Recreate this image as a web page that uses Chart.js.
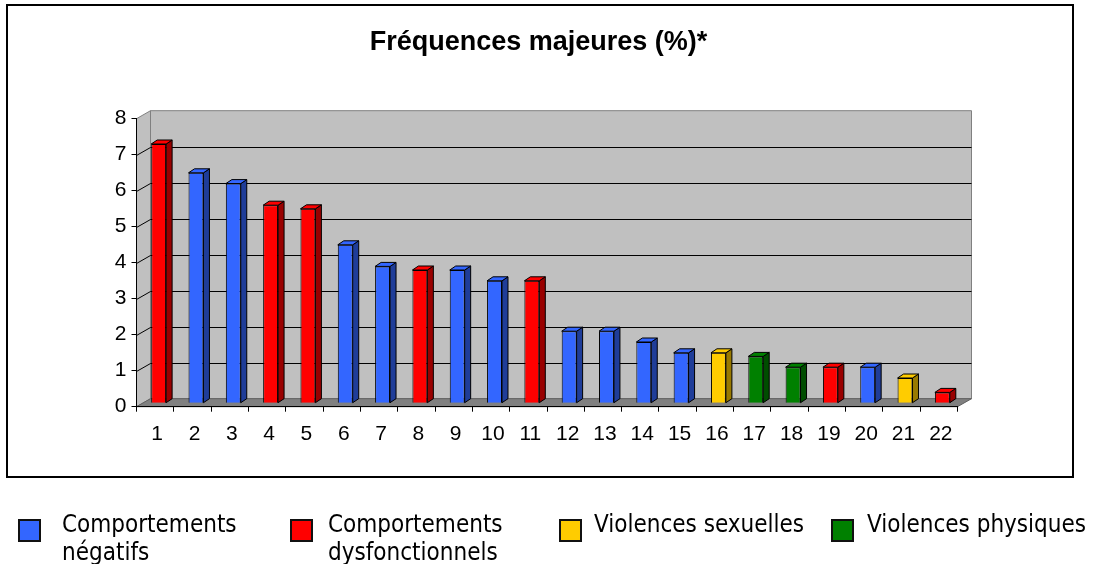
<!DOCTYPE html>
<html><head><meta charset="utf-8">
<script src="https://cdn.jsdelivr.net/npm/chart.js@4"></script>
<style>
html,body{margin:0;padding:0;background:#fff;}
#wrap{position:relative;width:1103px;height:564px;overflow:hidden;background:#fff;}
canvas{position:absolute;left:0;top:0;}
.leg{position:absolute;top:510px;font-family:"DejaVu Sans Condensed","DejaVu Sans",sans-serif;font-stretch:condensed;font-size:24px;line-height:28px;color:#000;white-space:pre;}
.sq{position:absolute;top:519px;width:23px;height:23px;box-sizing:border-box;border:2px solid #111;}
</style></head><body>
<div id="wrap"><canvas id="c" width="1103" height="564"></canvas><div id="legend"></div></div>
<script>
// ---- data ----
const titleText = 'Fréquences majeures (%)*';
const categories = ['1','2','3','4','5','6','7','8','9','10','11','12','13','14','15','16','17','18','19','20','21','22'];
const values = [7.2, 6.4, 6.1, 5.5, 5.4, 4.4, 3.8, 3.7, 3.7, 3.4, 3.4, 2.0, 2.0, 1.7, 1.4, 1.4, 1.3, 1.0, 1.0, 1.0, 0.7, 0.3];
const groupOfBar = [1,0,0,1,1,0,0,1,0,0,1,0,0,0,0,2,3,3,1,0,2,1];
const groupNames = ['Comportements\nnégatifs','Comportements\ndysfonctionnels','Violences sexuelles','Violences physiques'];
const groupColors = ['#3366FF','#FF0000','#FFCC00','#008000'];
const groupSideColors = ['#1F3D99','#990000','#997A00','#004D00'];
const yTickLabels = ['0','1','2','3','4','5','6','7','8'];

// ---- legend (HTML) ----
const legSqX = [18, 290, 559, 831];
const legTxtX = [62, 328, 594, 867];
const legend = document.getElementById('legend');
groupNames.forEach((n,i)=>{
  const s=document.createElement('div'); s.className='sq'; s.style.left=legSqX[i]+'px'; s.style.background=groupColors[i]; legend.appendChild(s);
  const t=document.createElement('div'); t.className='leg'; t.style.left=legTxtX[i]+'px'; t.textContent=n; legend.appendChild(t);
});

// ---- 3D look ----
const DX = 14, DY = 8;     // wall depth
const FX = 3.5, FY = 3.5;  // bar front-face offset
const BX = 6, BY = 4;      // bar depth
function poly(ctx, pts, fill, stroke){
  ctx.beginPath(); ctx.moveTo(pts[0][0],pts[0][1]);
  for(let i=1;i<pts.length;i++) ctx.lineTo(pts[i][0],pts[i][1]);
  ctx.closePath();
  if(fill){ctx.fillStyle=fill; ctx.fill();}
  if(stroke){ctx.strokeStyle=stroke; ctx.stroke();}
}
const threeD = {
  id:'threeD',
  beforeDraw(chart){
    const ctx=chart.ctx, a=chart.chartArea, y=chart.scales.y;
    const L=a.left,R=a.right,T=a.top,B=a.bottom;
    ctx.save();
    ctx.fillStyle='#fff'; ctx.fillRect(0,0,chart.width,chart.height);
    ctx.lineWidth=1;
    poly(ctx,[[L,T],[L+DX,T-DY],[L+DX,B-DY],[L,B]],'#C0C0C0','#808080');
    poly(ctx,[[L+DX,T-DY],[R+DX,T-DY],[R+DX,B-DY],[L+DX,B-DY]],'#C0C0C0','#808080');
    ctx.strokeStyle='#000';
    y.ticks.forEach(t=>{
      if(t.value<=y.min||t.value>=y.max) return;
      const py=Math.round(y.getPixelForValue(t.value))+0.5;
      ctx.beginPath(); ctx.moveTo(L,py); ctx.lineTo(L+DX,py-DY); ctx.lineTo(R+DX,py-DY); ctx.stroke();
    });
    poly(ctx,[[L,B],[R,B],[R+DX,B-DY],[L+DX,B-DY]],'#808080','#606060');
    ctx.restore();
  },
  beforeDatasetsDraw(chart){ chart.ctx.save(); chart.ctx.translate(FX,-FY); },
  afterDatasetsDraw(chart){
    const ctx=chart.ctx;
    const meta=chart.getDatasetMeta(0);
    ctx.lineWidth=1;
    meta.data.forEach((bar,i)=>{
      const p=bar.getProps(['x','y','base','width'],true);
      const l=p.x-p.width/2, r=p.x+p.width/2, top=p.y, base=p.base;
      const g=groupOfBar[i];
      poly(ctx,[[r,top],[r+BX,top-BY],[r+BX,base-BY],[r,base]],groupSideColors[g],'#000');
      poly(ctx,[[l,top],[l+BX,top-BY],[r+BX,top-BY],[r,top]],groupColors[g],'#000');
    });
    ctx.restore();
  },
  afterDraw(chart){
    const ctx=chart.ctx;
    ctx.save(); ctx.strokeStyle='#000'; ctx.lineWidth=2; ctx.strokeRect(7,5,1066,472); ctx.restore();
  }
};

const tickFont = {family:'"Liberation Sans", Arial, sans-serif', size:21};
new Chart(document.getElementById('c'), {
  type:'bar',
  data:{
    labels:categories,
    datasets:[{
      data:values,
      backgroundColor:groupOfBar.map(g=>groupColors[g]),
      borderColor:'#000',
      borderWidth:1,
      barPercentage:0.4,
      categoryPercentage:1.0
    }]
  },
  options:{
    responsive:false,
    animation:false,
    devicePixelRatio:1,
    layout:{padding:{left:0,right:26,top:26,bottom:117.3}},
    plugins:{
      legend:{display:false},
      tooltip:{enabled:false},
      title:{display:true,text:titleText,color:'#000',
        font:{family:'"Liberation Sans", Arial, sans-serif',size:27,weight:'bold',lineHeight:1.2},
        padding:{top:0,bottom:60.3}}
    },
    scales:{
      x:{
        offset:true,
        grid:{display:true,drawOnChartArea:false,drawTicks:true,tickLength:5,color:'#000',offset:true},
        border:{display:true,color:'#000',width:1},
        ticks:{color:'#000',font:tickFont,padding:10,labelOffset:2,maxRotation:0,autoSkip:false},
        afterFit(s){ s.height=40; }
      },
      y:{
        min:0,max:8,
        grid:{drawOnChartArea:false,drawTicks:true,tickLength:5,color:'#000'},
        border:{display:true,color:'#000',width:1},
        ticks:{stepSize:1,color:'#000',font:tickFont,padding:5,callback:(v,i)=>yTickLabels[v]},
        afterFit(s){ s.width=136.5; }
      },
      spacer:{
        type:'linear',position:'right',display:true,
        grid:{display:false},border:{display:false},ticks:{display:false},
        afterFit(s){ s.width=119.5; }
      }
    }
  },
  plugins:[threeD]
});
</script>
</body></html>
